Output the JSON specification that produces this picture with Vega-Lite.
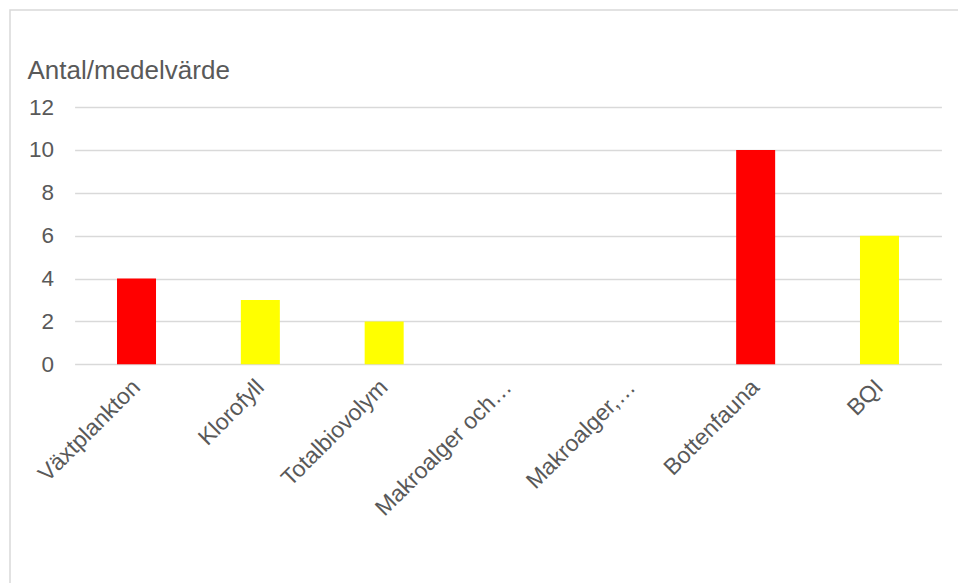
{
  "$schema": "https://vega.github.io/schema/vega-lite/v6.json",
  "autosize": {"type": "none"},
  "padding": {"left": 10, "top": 10, "right": 0, "bottom": 0},
  "width": 960,
  "height": 590,
  "background": "white",
  "config": {
    "font": "Liberation Sans",
    "view": {"stroke": "#d9d9d9", "strokeWidth": 1.5}
  },
  "data": {
    "values": [
      {"kategori": "Växtplankton", "antal": 4, "klass": "Röd"},
      {"kategori": "Klorofyll", "antal": 3, "klass": "Gul"},
      {"kategori": "Totalbiovolym", "antal": 2, "klass": "Gul"},
      {"kategori": "Makroalger och…", "antal": 0, "klass": "Gul"},
      {"kategori": "Makroalger,…", "antal": 0, "klass": "Gul"},
      {"kategori": "Bottenfauna", "antal": 10, "klass": "Röd"},
      {"kategori": "BQI", "antal": 6, "klass": "Gul"}
    ]
  },
  "mark": {"type": "bar"},
  "encoding": {
    "x": {
      "field": "kategori",
      "type": "nominal",
      "sort": null,
      "scale": {"range": [64.6, 931.4], "paddingInner": 0.685, "paddingOuter": 0.3425},
      "axis": {
        "title": null,
        "offset": -235.7,
        "domain": false,
        "ticks": false,
        "grid": false,
        "labelAngle": -45,
        "labelAlign": "right",
        "labelBaseline": "middle",
        "labelPadding": 19,
        "labelFontSize": 23,
        "labelColor": "#595959",
        "labelLimit": 300
      }
    },
    "y": {
      "field": "antal",
      "type": "quantitative",
      "scale": {"domain": [0, 12], "range": [354.3, 97.1], "nice": false},
      "axis": {
        "title": "Antal/medelvärde",
        "offset": -64.6,
        "values": [0, 2, 4, 6, 8, 10, 12],
        "domain": false,
        "ticks": false,
        "grid": true,
        "gridColor": "#d9d9d9",
        "gridWidth": 1.5,
        "labelPadding": 21,
        "labelFontSize": 22.5,
        "labelColor": "#595959",
        "titleAngle": 0,
        "titleAlign": "left",
        "titleBaseline": "alphabetic",
        "titleX": -47.6,
        "titleY": 68,
        "titleFontSize": 26,
        "titleFontWeight": "normal",
        "titleColor": "#595959"
      }
    },
    "color": {
      "field": "klass",
      "type": "nominal",
      "scale": {"domain": ["Röd", "Gul"], "range": ["#ff0000", "#ffff00"]},
      "legend": null
    }
  }
}
